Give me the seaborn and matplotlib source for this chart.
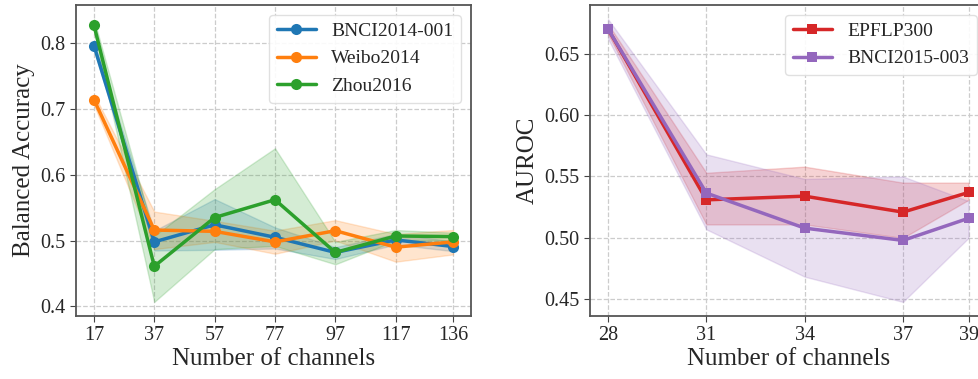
import numpy as np
import pandas as pd
import matplotlib
matplotlib.use('Agg')
import matplotlib.pyplot as plt
import seaborn as sns

# left panel: balanced accuracy vs number of channels
left_channels = [17, 37, 57, 77, 97, 117, 136]
left_series = ['BNCI2014-001', 'Weibo2014', 'Zhou2016']
bnci14_mean = [0.796, 0.498, 0.524, 0.505, 0.482, 0.501, 0.491]
bnci14_low = [0.790, 0.485, 0.486, 0.488, 0.472, 0.494, 0.484]
bnci14_high = [0.802, 0.515, 0.563, 0.520, 0.490, 0.510, 0.499]
weibo_mean = [0.714, 0.516, 0.514, 0.498, 0.515, 0.490, 0.498]
weibo_low = [0.706, 0.487, 0.498, 0.480, 0.500, 0.468, 0.479]
weibo_high = [0.722, 0.544, 0.530, 0.515, 0.531, 0.510, 0.516]
zhou_mean = [0.827, 0.461, 0.535, 0.562, 0.482, 0.507, 0.506]
zhou_low = [0.818, 0.407, 0.487, 0.492, 0.464, 0.500, 0.500]
zhou_high = [0.836, 0.507, 0.578, 0.640, 0.498, 0.516, 0.512]

# right panel: AUROC vs number of channels
right_channels = [28, 31, 34, 37, 39]
right_series = ['EPFLP300', 'BNCI2015-003']
epfl_mean = [0.670, 0.531, 0.534, 0.521, 0.537]
epfl_low = [0.666, 0.511, 0.511, 0.500, 0.531]
epfl_high = [0.674, 0.553, 0.558, 0.545, 0.545]
bnci15_mean = [0.670, 0.5365, 0.508, 0.498, 0.516]
bnci15_low = [0.662, 0.507, 0.4685, 0.448, 0.500]
bnci15_high = [0.678, 0.568, 0.548, 0.550, 0.530]

sns.set_style('ticks')
plt.rcParams['font.family'] = ['Liberation Serif', 'DejaVu Serif']
plt.rcParams['mathtext.fontset'] = 'stix'

fig = plt.figure(figsize=(9.79, 3.79), dpi=100)
ax1 = fig.add_axes([0.0776, 0.1662, 0.4035, 0.8206])
ax2 = fig.add_axes([0.6027, 0.1662, 0.4050, 0.8206])

left_data = [(bnci14_mean, bnci14_low, bnci14_high, 'tab:blue'),
             (weibo_mean, weibo_low, weibo_high, 'tab:orange'),
             (zhou_mean, zhou_low, zhou_high, 'tab:green')]
for name, (m, lo, hi, c) in zip(left_series, left_data):
    df = pd.DataFrame({'ch': left_channels, 'v': m})
    sns.lineplot(data=df, x='ch', y='v', ax=ax1, color=c, marker='o', markersize=8,
                 markeredgewidth=0, linewidth=2.5, label=name)
    ax1.fill_between(left_channels, lo, hi, color=c, alpha=0.2)

right_data = [(epfl_mean, epfl_low, epfl_high, 'tab:red'),
              (bnci15_mean, bnci15_low, bnci15_high, 'tab:purple')]
for name, (m, lo, hi, c) in zip(right_series, right_data):
    df = pd.DataFrame({'ch': right_channels, 'v': m})
    sns.lineplot(data=df, x='ch', y='v', ax=ax2, color=c, marker='s', markersize=7.5,
                 markeredgewidth=0, linewidth=2.5, label=name)
    ax2.fill_between(right_channels, lo, hi, color=c, alpha=0.2)

ax1.set_xticks(left_channels)
ax1.set_yticks([0.4, 0.5, 0.6, 0.7, 0.8])
ax1.set_yticklabels(['0.4', '0.5', '0.6', '0.7', '0.8'])
ax1.set_ylabel('Balanced Accuracy', fontsize=18)
ax2.set_xticks(right_channels)
ax2.set_yticks([0.45, 0.50, 0.55, 0.60, 0.65])
ax2.set_yticklabels(['0.45', '0.50', '0.55', '0.60', '0.65'])
ax2.set_ylabel('AUROC', fontsize=18)

for ax in (ax1, ax2):
    ax.set_xlabel('Number of channels', fontsize=18, labelpad=2)
    ax.tick_params(labelsize=14.5, length=4, color='#444444')
    ax.grid(True, linestyle='--', color='#cccccc', linewidth=0.9)
    for sp in ax.spines.values():
        sp.set_visible(True)
        sp.set_color('#555555')
        sp.set_linewidth(1.3)
    ax.legend(loc='upper right', fontsize=14, framealpha=0.9, edgecolor='#dddddd')

fig.savefig('out.png', dpi=100)
